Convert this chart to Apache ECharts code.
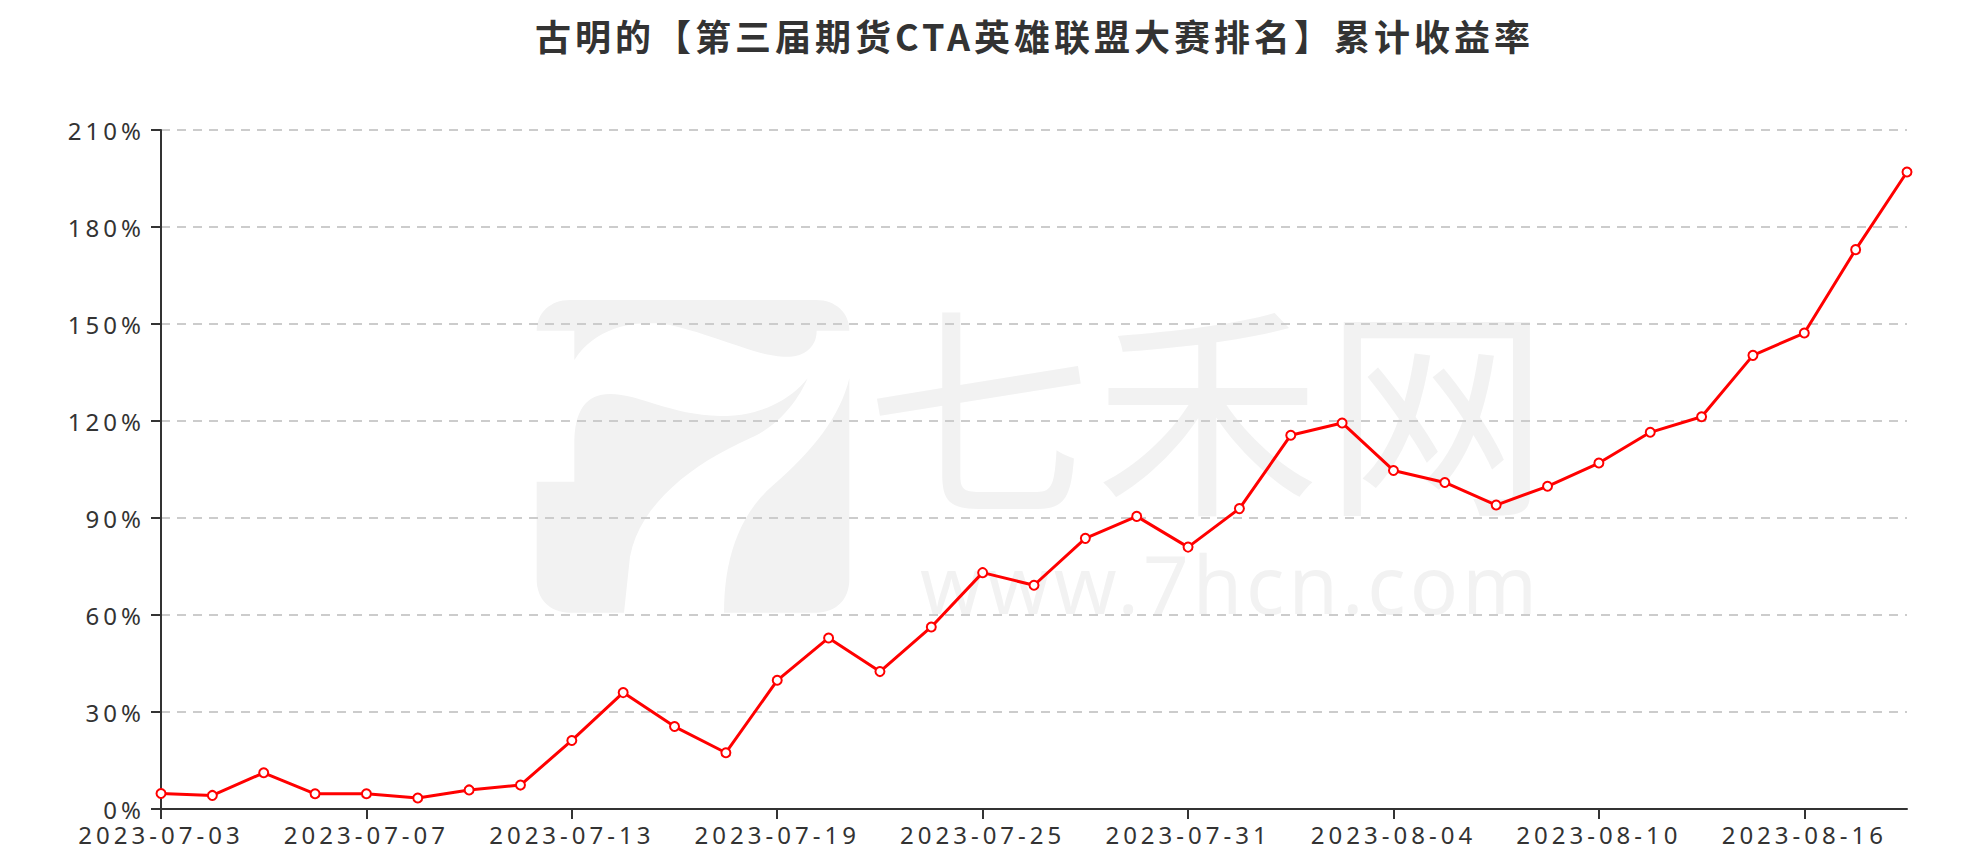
<!DOCTYPE html>
<html>
<head>
<meta charset="utf-8">
<script src="https://cdn.jsdelivr.net/npm/echarts@6/dist/echarts.min.js"></script>
<style>
  html, body { margin: 0; padding: 0; background: #fff; }
  #chart { width: 1971px; height: 859px; }
  #chart text { letter-spacing: 4px; }
</style>
</head>
<body>
<div id="chart"></div>
<script>
const titleText = '古明的【第三届期货CTA英雄联盟大赛排名】累计收益率';
const dates = [
  '2023-07-03','2023-07-04','2023-07-05','2023-07-06','2023-07-07',
  '2023-07-10','2023-07-11','2023-07-12','2023-07-13','2023-07-14',
  '2023-07-17','2023-07-18','2023-07-19','2023-07-20','2023-07-21',
  '2023-07-24','2023-07-25','2023-07-26','2023-07-27','2023-07-28',
  '2023-07-31','2023-08-01','2023-08-02','2023-08-03','2023-08-04',
  '2023-08-07','2023-08-08','2023-08-09','2023-08-10','2023-08-11',
  '2023-08-14','2023-08-15','2023-08-16','2023-08-17','2023-08-18'
];
const cumulativeReturn = [
  4.8, 4.2, 11.2, 4.7, 4.7,
  3.4, 5.9, 7.4, 21.2, 36.0,
  25.5, 17.4, 39.8, 52.9, 42.5,
  56.3, 73.1, 69.2, 83.7, 90.5,
  81.0, 92.9, 115.6, 119.4, 104.7,
  101.0, 94.0, 99.8, 107.0, 116.5,
  121.3, 140.3, 147.2, 173.0, 197.0
];
const yMin = 0, yMax = 210, yStep = 30;
const watermarkName = '七禾网';
const watermarkUrl = 'www.7hcn.com';

// watermark logo outline (decorative, not data): simple M/L/C path -> polygon points
function pathToPoints(d, ox, oy, s) {
  const tk = d.trim().split(/\s+/);
  const pts = [];
  let i = 0, cx = 0, cy = 0;
  while (i < tk.length) {
    const c = tk[i++];
    if (c === 'M' || c === 'L') {
      cx = +tk[i++]; cy = +tk[i++];
      pts.push([cx, cy]);
    } else if (c === 'C') {
      const x1 = +tk[i++], y1 = +tk[i++], x2 = +tk[i++], y2 = +tk[i++], x3 = +tk[i++], y3 = +tk[i++];
      for (let k = 1; k <= 16; k++) {
        const t = k / 16, u = 1 - t;
        pts.push([
          u*u*u*cx + 3*u*u*t*x1 + 3*u*t*t*x2 + t*t*t*x3,
          u*u*u*cy + 3*u*u*t*y1 + 3*u*t*t*y2 + t*t*t*y3
        ]);
      }
      cx = x3; cy = y3;
    }
  }
  return pts.map(p => [ox + p[0] * s, oy + p[1] * s]);
}
const logoPaths = [
  'M 50 122 C 50 70 90 30 150 30 L 888 30 C 948 30 988 70 988 122 L 890 122 C 890 180 840 205 790 200 C 700 195 600 140 450 105 C 330 85 220 120 163 210 L 163 122 Z',
  'M 50 575 L 163 575 L 163 470 C 160 360 200 312 270 312 C 360 312 450 375 600 378 C 720 380 810 330 863 265 C 830 340 770 410 690 445 C 520 520 360 640 330 800 L 312 968 L 150 968 C 90 968 50 928 50 868 Z',
  'M 988 265 L 988 868 C 988 928 948 968 888 968 L 612 968 C 612 820 650 680 760 585 C 880 480 960 380 988 265 Z'
];
const logoElements = logoPaths.map(d => ({
  type: 'polygon', z: -10, silent: true,
  shape: { points: pathToPoints(d, 520, 290, 1/3) },
  style: { fill: '#f2f2f2' }
}));

const chart = echarts.init(document.getElementById('chart'), null, { renderer: 'svg' });
const axisFont = 'Noto Sans, sans-serif';
chart.setOption({
  backgroundColor: '#ffffff',
  animation: false,
  title: {
    text: titleText,
    left: 530,
    top: 12,
    textStyle: { fontSize: 36, fontWeight: 'bold', color: '#333', fontFamily: 'Noto Sans CJK SC, sans-serif' }
  },
  graphic: logoElements.concat([
    { type: 'text', x: 866, y: 400, z: -10, silent: true,
      style: { text: watermarkName, fontSize: 225, lineHeight: 190, fontFamily: 'Noto Sans CJK SC', fill: '#f2f2f2', verticalAlign: 'middle', align: 'left' } },
    { type: 'text', x: 920, y: 582, z: -10, silent: true,
      style: { text: watermarkUrl, fontSize: 80, lineHeight: 70, fontFamily: 'Noto Sans', fill: '#f2f2f2', verticalAlign: 'middle', align: 'left' } }
  ]),
  grid: { left: 161, right: 64, top: 130, bottom: 50, containLabel: false },
  xAxis: {
    type: 'category',
    data: dates,
    boundaryGap: false,
    axisLine: { lineStyle: { color: '#333', width: 2 } },
    axisTick: { show: true, length: 10, interval: 3, lineStyle: { color: '#333', width: 2 } },
    axisLabel: { interval: 3, fontSize: 24, lineHeight: 24, color: '#333', margin: 13, fontFamily: axisFont },
    splitLine: { show: false }
  },
  yAxis: {
    type: 'value',
    min: yMin, max: yMax, interval: yStep,
    axisLine: { show: true, lineStyle: { color: '#333', width: 2 } },
    axisTick: { show: true, length: 10, lineStyle: { color: '#333', width: 2 } },
    axisLabel: { formatter: '{value}%', fontSize: 24, lineHeight: 22, color: '#333', margin: 16, fontFamily: axisFont },
    splitLine: { show: true, lineStyle: { color: '#cccccc', width: 2, type: [9, 7] } }
  },
  series: [{
    type: 'line',
    data: cumulativeReturn,
    symbol: 'emptyCircle',
    symbolSize: 9,
    showAllSymbol: true,
    lineStyle: { color: '#ff0000', width: 3 },
    itemStyle: { color: '#ff0000', borderWidth: 2, borderColor: '#ff0000' },
    z: 5
  }]
});
</script>
</body>
</html>
